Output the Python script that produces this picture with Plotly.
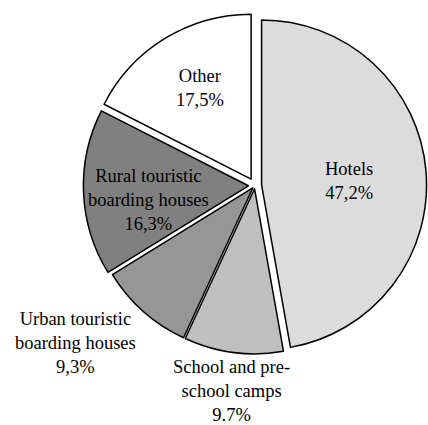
import plotly.graph_objects as go

# ---- data ----
categories = ["Hotels", "School and pre-school camps", "Urban touristic boarding houses",
              "Rural touristic boarding houses", "Other"]
values = [47.2, 9.7, 9.3, 16.3, 17.5]
pct_labels = ["47,2%", "9.7%", "9,3%", "16,3%", "17,5%"]
label_lines = ["Hotels", "School and pre-<br>school camps", "Urban touristic<br>boarding houses",
               "Rural touristic<br>boarding houses", "Other"]

# ---- styling / layout ----
W, H = 428, 425
colors = ["#DCDCDC", "#BFBFBF", "#969696", "#808080", "#FFFFFF"]
pulls = [0.04, 0.02, 0.02, 0.04, 0.045]

cx, cy, r = 255.0, 185.5, 165.0
half = r * (1 + max(pulls))
dom_x = [max(0.0, (cx - half) / W), min(1.0, (cx + half) / W)]
dom_y = [1 - (cy + half) / H, 1 - (cy - half) / H]

# label centres in pixels (x, y from top)
label_pos = [(349, 181), (232, 391), (75, 343), (148, 200), (200, 88)]

fig = go.Figure(go.Pie(
    labels=categories,
    values=values,
    sort=False,
    direction="clockwise",
    rotation=0,
    pull=pulls,
    textinfo="none",
    hoverinfo="label+percent",
    marker=dict(colors=colors, line=dict(color="#000000", width=1.5)),
    domain=dict(x=dom_x, y=dom_y),
    showlegend=False,
))

for txt, pct, (px, py) in zip(label_lines, pct_labels, label_pos):
    fig.add_annotation(
        x=px / W, y=1 - py / H, xref="paper", yref="paper",
        text=f"{txt}<br>{pct}", showarrow=False,
        xanchor="center", yanchor="middle", align="center",
        font=dict(family="Liberation Serif, Times New Roman, serif", size=18.5, color="#000000"),
    )

fig.update_layout(
    width=W, height=H,
    margin=dict(l=0, r=0, t=0, b=0),
    paper_bgcolor="#FFFFFF",
    plot_bgcolor="#FFFFFF",
)

fig.write_html(
    "out.html",
    config={"displayModeBar": False},
    post_script="document.body.style.margin='0';document.body.style.overflow='hidden';",
)
